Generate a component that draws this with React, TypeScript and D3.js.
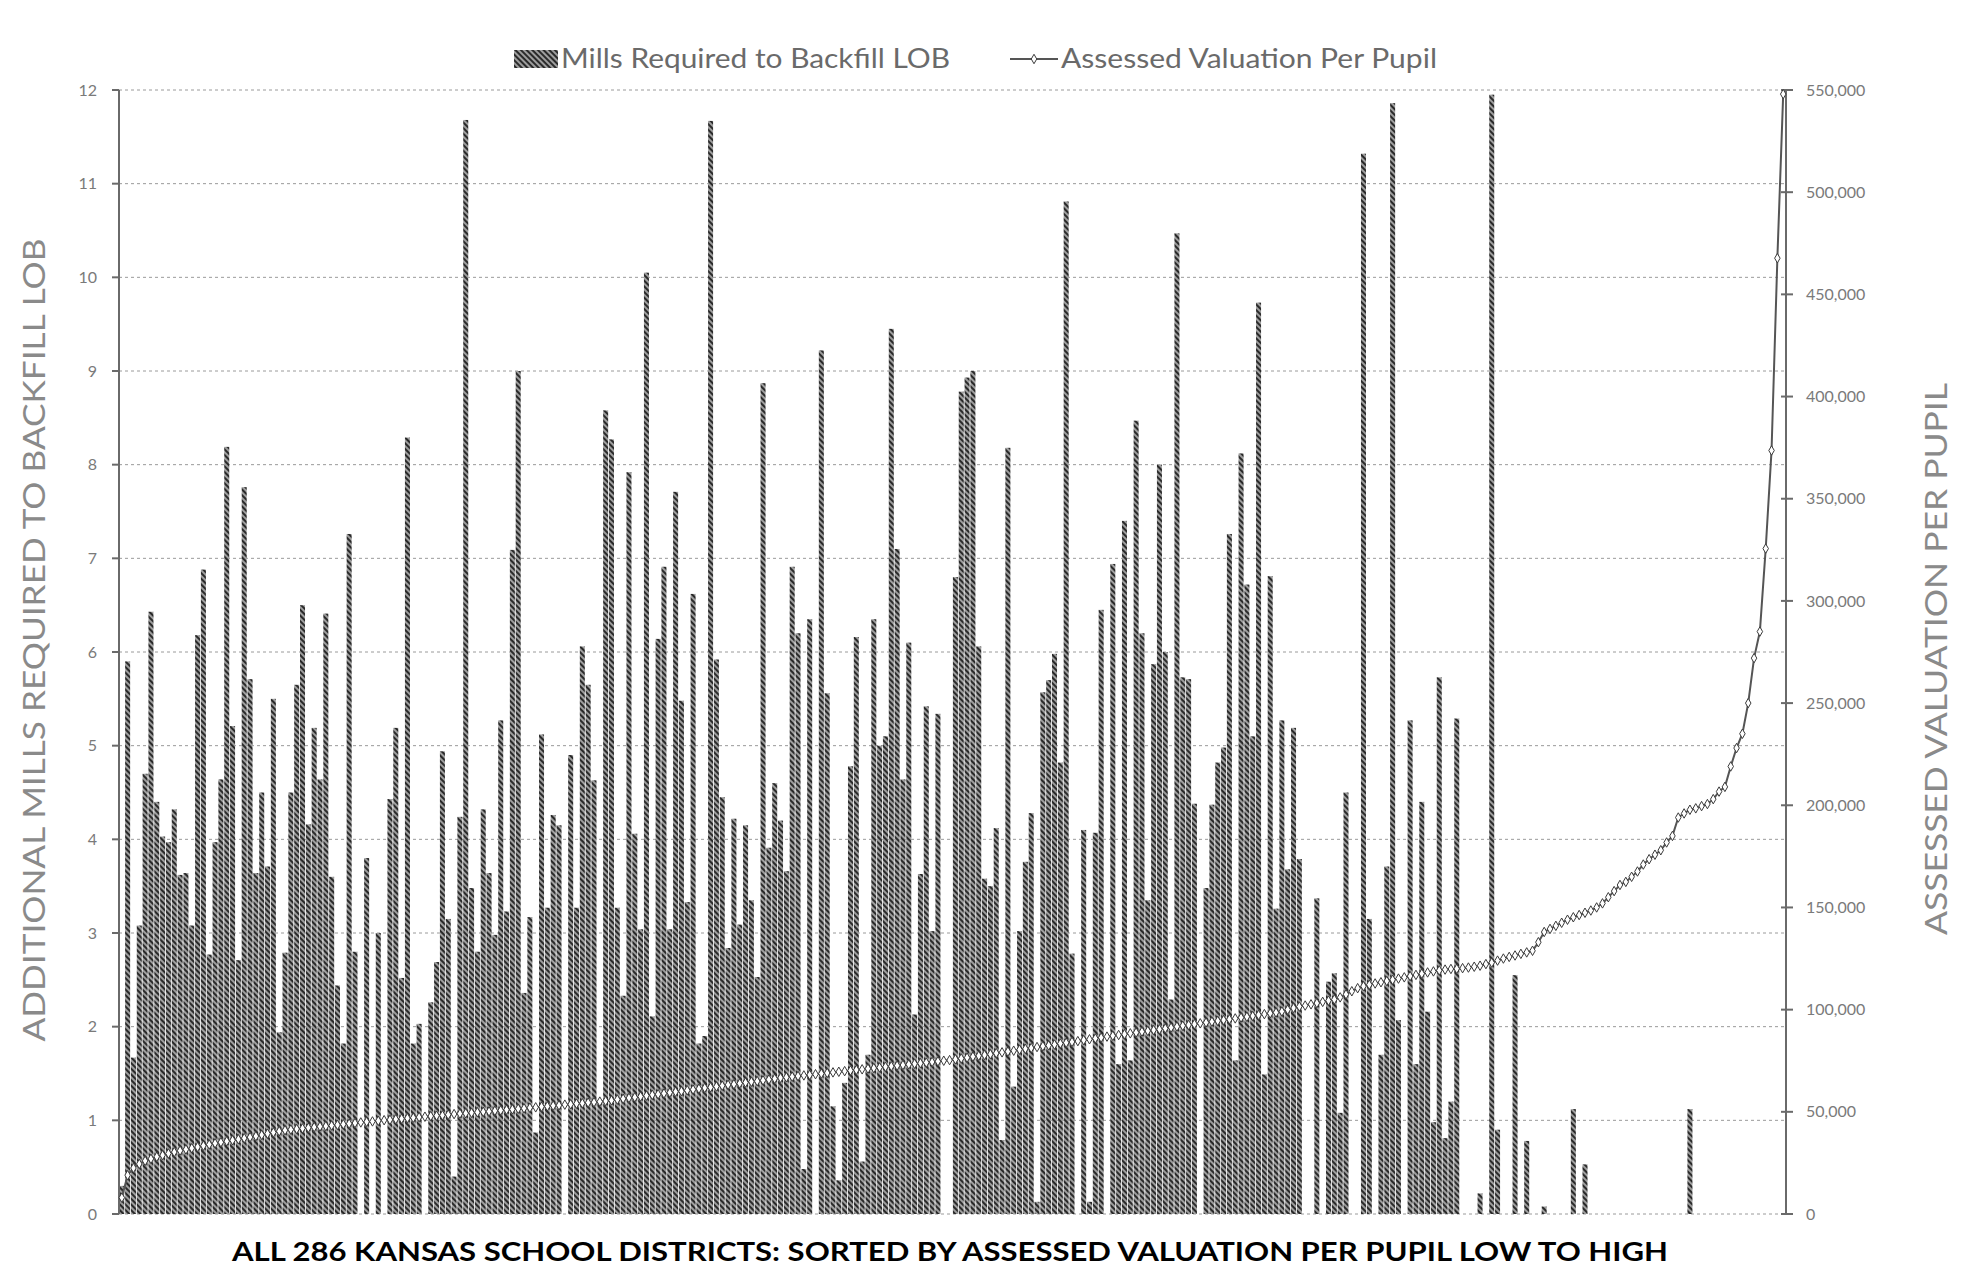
import * as d3 from "d3";

// mills required to backfill LOB, one per district (sorted by valuation)
const mills = [
  0.3, 5.9, 1.67, 3.08, 4.7, 6.43, 4.4, 4.03, 3.97, 4.32,
  3.62, 3.64, 3.08, 6.18, 6.88, 2.77, 3.97, 4.64, 8.19, 5.21,
  2.71, 7.76, 5.71, 3.64, 4.5, 3.71, 5.5, 1.94, 2.79, 4.5,
  5.65, 6.5, 4.16, 5.19, 4.64, 6.41, 3.6, 2.44, 1.82, 7.26,
  2.8, 0, 3.8, 0, 3.0, 0, 4.43, 5.19, 2.52, 8.29,
  1.82, 2.03, 0, 2.26, 2.69, 4.94, 3.15, 0.4, 4.24, 11.68,
  3.48, 2.8, 4.32, 3.64, 2.98, 5.27, 3.23, 7.09, 9.0, 2.36,
  3.17, 0.87, 5.12, 3.27, 4.26, 4.15, 0, 4.9, 3.27, 6.06,
  5.65, 4.63, 1.2, 8.58, 8.27, 3.27, 2.33, 7.92, 4.06, 3.04,
  10.05, 2.11, 6.14, 6.91, 3.04, 7.71, 5.48, 3.33, 6.62, 1.82,
  1.9, 11.67, 5.92, 4.45, 2.84, 4.22, 3.09, 4.15, 3.35, 2.53,
  8.87, 3.91, 4.6, 4.2, 3.66, 6.91, 6.2, 0.48, 6.35, 0,
  9.22, 5.56, 1.15, 0.36, 1.4, 4.78, 6.16, 0.56, 1.7, 6.35,
  5.0, 5.1, 9.45, 7.1, 4.64, 6.1, 2.13, 3.63, 5.42, 3.02,
  5.34, 0, 0, 6.8, 8.78, 8.93, 9.0, 6.06, 3.58, 3.5,
  4.12, 0.79, 8.18, 1.36, 3.02, 3.76, 4.28, 0.13, 5.57, 5.7,
  5.98, 4.82, 10.81, 2.78, 0, 4.1, 0.13, 4.07, 6.45, 0,
  6.94, 1.6, 7.4, 1.64, 8.47, 6.2, 3.35, 5.87, 8.0, 6.0,
  2.29, 10.47, 5.73, 5.71, 4.38, 0, 3.48, 4.37, 4.82, 4.98,
  7.26, 1.64, 8.12, 6.72, 5.1, 9.73, 1.49, 6.81, 3.26, 5.27,
  3.68, 5.19, 3.79, 0, 0, 3.37, 0, 2.48, 2.57, 1.08,
  4.5, 0, 0, 11.32, 3.15, 0, 1.7, 3.71, 11.86, 2.07,
  0, 5.27, 1.6, 4.4, 2.16, 0.98, 5.73, 0.81, 1.2, 5.29,
  0, 0, 0, 0.22, 0, 11.95, 0.9, 0, 0, 2.55,
  0, 0.78, 0, 0, 0.08, 0, 0, 0, 0, 1.12,
  0, 0.53, 0, 0, 0, 0, 0, 0, 0, 0,
  0, 0, 0, 0, 0, 0, 0, 0, 0, 1.12,
  0, 0, 0, 0, 0, 0, 0, 0, 0, 0,
  0, 0, 0, 0, 0, 0,
];

// assessed valuation per pupil, low to high
const valuation = [
  8000, 19000, 22500, 24500, 26000, 27000, 28000, 28800, 29600, 30300,
  31000, 31600, 32200, 32800, 33400, 34000, 34600, 35100, 35600, 36100,
  36600, 37100, 37600, 38100, 38700, 39300, 39900, 40500, 41000, 41300,
  41600, 41900, 42200, 42500, 42800, 43000, 43300, 43600, 43900, 44200,
  44500, 44800, 45100, 45300, 45600, 45900, 46100, 46400, 46600, 46900,
  47100, 47400, 47600, 47900, 48100, 48300, 48600, 48900, 49100, 49300,
  49500, 49800, 50000, 50200, 50500, 50700, 51000, 51200, 51500, 51700,
  52000, 52200, 52500, 52700, 53000, 53200, 53500, 53700, 54000, 54200,
  54500, 54700, 55000, 55300, 55600, 56000, 56400, 56800, 57100, 57500,
  57900, 58300, 58600, 59000, 59400, 59800, 60100, 60500, 60900, 61300,
  61700, 62000, 62400, 62800, 63200, 63500, 63900, 64300, 64700, 65000,
  65400, 65800, 66200, 66600, 66900, 67200, 67500, 67800, 68100, 68400,
  68700, 69000, 69300, 69600, 69900, 70200, 70500, 70800, 71100, 71400,
  71700, 72000, 72300, 72600, 72900, 73200, 73500, 73800, 74100, 74400,
  74700, 75000, 75300, 75700, 76100, 76500, 77000, 77400, 77800, 78200,
  78700, 79100, 79500, 79900, 80400, 80800, 81200, 81700, 82100, 82500,
  82900, 83400, 83800, 84200, 84600, 85100, 85500, 85900, 86300, 86800,
  87200, 87600, 88000, 88400, 88800, 89200, 89600, 90000, 90400, 90800,
  91200, 91700, 92100, 92500, 92900, 93300, 93700, 94100, 94500, 94900,
  95300, 95700, 96100, 96500, 96900, 97400, 97800, 98200, 98600, 99100,
  100000, 100800, 101500, 102000, 102600, 103200, 103800, 104400, 105000, 106000,
  107500, 109000, 110500, 111500, 112200, 112800, 113400, 114000, 114600, 115200,
  115800, 116400, 117000, 117600, 118200, 118700, 119200, 119600, 119900, 120000,
  120300, 120600, 121000, 121500, 122300, 123000, 124000, 125000, 125800, 126500,
  127300, 128000, 128800, 133000, 138000, 139500, 141000, 142500, 144000, 145200,
  146300, 147400, 148500, 150000, 152000, 155000, 158000, 161000, 162500, 165000,
  167600, 171000, 173600, 175800, 178000, 181800, 185000, 194000, 196000, 197800,
  198500, 199600, 200600, 203000, 206700, 209000, 219000, 228000, 235000, 250000,
  272000, 285000, 325600, 373600, 467700, 548000,
];

const millTicks = [0, 1, 2, 3, 4, 5, 6, 7, 8, 9, 10, 11, 12];
const valTicks = [
  0, 50000, 100000, 150000, 200000, 250000, 300000, 350000, 400000, 450000,
  500000, 550000,
];
const legendBar = "Mills Required to Backfill LOB";
const legendLine = "Assessed Valuation Per Pupil";
const leftTitle = "ADDITIONAL MILLS REQUIRED TO BACKFILL LOB";
const rightTitle = "ASSESSED VALUATION PER PUPIL";
const bottomTitle =
  "ALL 286 KANSAS SCHOOL DISTRICTS: SORTED BY ASSESSED VALUATION PER PUPIL LOW TO HIGH";

export default function App() {
  const W = 1967,
    H = 1280;
  const m = { left: 119, right: 1786, top: 90, bottom: 1214 };
  const font = "Lato, 'Open Sans', sans-serif";

  const idx = mills.map((_, i) => i);
  const x = d3
    .scaleBand<number>()
    .domain(idx)
    .range([m.left, m.right])
    .paddingInner(0.14)
    .paddingOuter(0.05);
  const yM = d3.scaleLinear().domain([0, 12]).range([m.bottom, m.top]);
  const yV = d3.scaleLinear().domain([0, 550000]).range([m.bottom, m.top]);

  const line = d3
    .line<number>()
    .x((_, i) => x(i)! + x.bandwidth() / 2)
    .y((d) => yV(d));
  const diamond = d3.symbol(d3.symbolDiamond, 26)()!;
  const fmt = d3.format(",");

  return (
    <svg
      width={W}
      height={H}
      style={{ position: "absolute", left: 0, top: 0, background: "#fff" }}
      fontFamily={font}
    >
      <defs>
        <pattern
          id="hatch"
          width="4"
          height="4"
          patternUnits="userSpaceOnUse"
          patternTransform="rotate(-45)"
        >
          <rect width="4" height="4" fill="#9e9e9e" />
          <rect width="2" height="4" fill="#2a2a2a" />
        </pattern>
      </defs>

      {/* gridlines */}
      {millTicks.map((t) => (
        <line
          key={"g" + t}
          x1={m.left}
          x2={m.right}
          y1={yM(t)}
          y2={yM(t)}
          stroke="#9a9a9a"
          strokeWidth={1}
          strokeDasharray="3,3"
        />
      ))}

      {/* bars */}
      {mills.map((v, i) =>
        v > 0 ? (
          <rect
            key={"b" + i}
            x={x(i)}
            y={yM(v)}
            width={x.bandwidth()}
            height={yM(0) - yM(v)}
            fill="url(#hatch)"
          />
        ) : null
      )}

      {/* left axis */}
      <line x1={m.left} x2={m.left} y1={m.top} y2={m.bottom} stroke="#6a6a6a" strokeWidth={2} />
      {millTicks.map((t) => (
        <g key={"lt" + t}>
          <line x1={m.left - 7} x2={m.left} y1={yM(t)} y2={yM(t)} stroke="#6a6a6a" strokeWidth={2} />
          <text x={m.left - 22} y={yM(t)} dy="0.35em" textAnchor="end" fontSize={16} fill="#7a7a7a">
            {t}
          </text>
        </g>
      ))}

      {/* right axis */}
      <line x1={m.right} x2={m.right} y1={m.top} y2={m.bottom} stroke="#6a6a6a" strokeWidth={2} />
      {valTicks.map((t) => (
        <g key={"rt" + t}>
          <line x1={m.right - 5} x2={m.right + 7} y1={yV(t)} y2={yV(t)} stroke="#6a6a6a" strokeWidth={2} />
          <text x={m.right + 20} y={yV(t)} dy="0.35em" fontSize={16} fill="#7a7a7a">
            {fmt(t)}
          </text>
        </g>
      ))}

      {/* valuation line */}
      <path d={line(valuation)!} fill="none" stroke="#555" strokeWidth={2} />
      {valuation.map((v, i) => (
        <path
          key={"m" + i}
          d={diamond}
          transform={`translate(${x(i)! + x.bandwidth() / 2},${yV(v)})`}
          fill="#fff"
          stroke="#3a3a3a"
          strokeWidth={1}
        />
      ))}

      {/* legend */}
      <rect x={514} y={50} width={44} height={18} fill="url(#hatch)" />
      <text
        x={561}
        y={68}
        fontSize={27}
        fill="#6a6a6a"
        textLength={389}
        lengthAdjust="spacingAndGlyphs"
      >
        {legendBar}
      </text>
      <line x1={1010} x2={1058} y1={59} y2={59} stroke="#555" strokeWidth={2} />
      <path d={diamond} transform="translate(1034,59)" fill="#fff" stroke="#3a3a3a" />
      <text
        x={1061}
        y={68}
        fontSize={27}
        fill="#6a6a6a"
        textLength={376}
        lengthAdjust="spacingAndGlyphs"
      >
        {legendLine}
      </text>

      {/* axis titles */}
      <text
        transform="translate(45,640) rotate(-90)"
        textAnchor="middle"
        fontSize={30}
        fill="#8a8a8a"
        textLength={803}
        lengthAdjust="spacingAndGlyphs"
      >
        {leftTitle}
      </text>
      <text
        transform="translate(1947,659) rotate(-90)"
        textAnchor="middle"
        fontSize={30}
        fill="#8a8a8a"
        textLength={552}
        lengthAdjust="spacingAndGlyphs"
      >
        {rightTitle}
      </text>
      <text
        x={950}
        y={1261}
        textAnchor="middle"
        fontSize={27}
        fontWeight="bold"
        fill="#000"
        textLength={1436}
        lengthAdjust="spacingAndGlyphs"
      >
        {bottomTitle}
      </text>
    </svg>
  );
}
